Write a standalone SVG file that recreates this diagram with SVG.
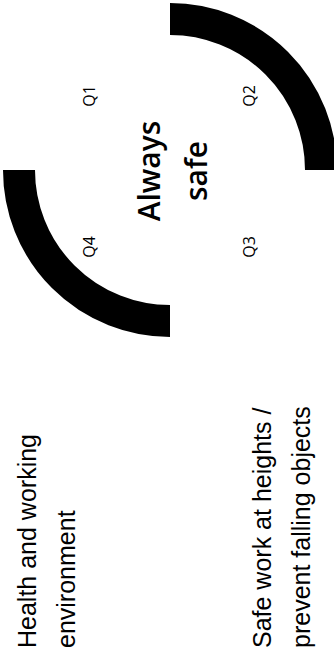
<svg xmlns="http://www.w3.org/2000/svg" width="334" height="660" viewBox="0 0 334 660">
<style>
.arc{fill:none;stroke:#000;stroke-width:32;stroke-linecap:butt}
.q{font-family:"Open Sans","Noto Sans",sans-serif;font-size:16px;fill:#000;text-anchor:middle}
.c{font-family:"Open Sans","Noto Sans",sans-serif;font-size:30px;font-weight:600;fill:#000;text-anchor:middle}
.l{font-family:"Liberation Sans",Arial,sans-serif;font-size:25px;fill:#000}
</style>
<rect width="334" height="660" fill="#fff"/>
<g id="arcs">
<path id="arc-q2" class="arc" d="M170 19 A151 151 0 0 1 321 170"/>
<path id="arc-q4" class="arc" d="M19 170 A151 151 0 0 0 170 321"/>
</g>
<g id="center">
<text class="c" transform="translate(160 171) rotate(-90)">Always</text>
<text class="c" transform="translate(207 171) rotate(-90)">safe</text>
</g>
<g id="q1"><text class="q" transform="translate(95 96) rotate(-90)">Q1</text></g>
<g id="q2"><text class="q" transform="translate(255 96) rotate(-90)">Q2</text></g>
<g id="q3"><text class="q" transform="translate(255 247) rotate(-90)">Q3</text></g>
<g id="q4"><text class="q" transform="translate(95 247) rotate(-90)">Q4</text></g>
<g id="label-health">
<text class="l" transform="translate(36 648) rotate(-90)">Health and working</text>
<text class="l" transform="translate(75 648) rotate(-90)">environment</text>
</g>
<g id="label-heights">
<text class="l" transform="translate(271 648) rotate(-90)">Safe work at heights /</text>
<text class="l" transform="translate(310 648) rotate(-90)">prevent falling objects</text>
</g>
</svg>
